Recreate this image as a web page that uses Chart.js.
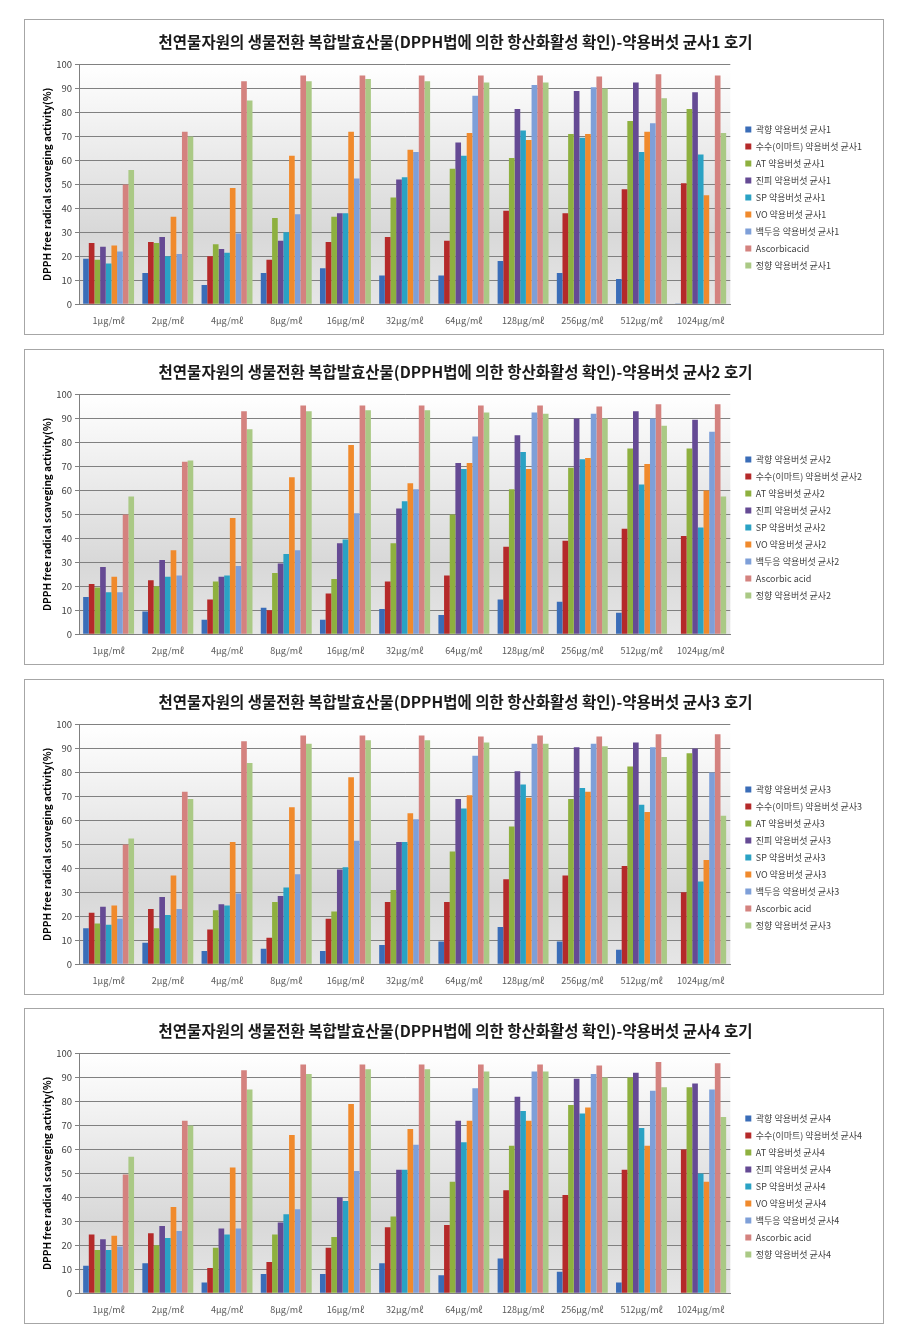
<!DOCTYPE html>
<html>
<head>
<meta charset="utf-8">
<script src="https://cdn.jsdelivr.net/npm/chart.js@4.4.0/dist/chart.umd.min.js"></script>
<style>
  body { margin: 0; background: #fff; width: 902px; height: 1334px; position: relative; }
  .panel { position: absolute; left: 24px; width: 858px; height: 314px; border: 1px solid #a6a6a6; background: #fff; }
  canvas { display: block; }
</style>
</head>
<body>
<div class="panel" style="top:19px"><canvas id="c1" width="858" height="314"></canvas></div>
<div class="panel" style="top:349px"><canvas id="c2" width="858" height="314"></canvas></div>
<div class="panel" style="top:679px"><canvas id="c3" width="858" height="314"></canvas></div>
<div class="panel" style="top:1008px"><canvas id="c4" width="858" height="314"></canvas></div>

<script>
// x categories
const doses = ['1μg/mℓ', '2μg/mℓ', '4μg/mℓ', '8μg/mℓ', '16μg/mℓ', '32μg/mℓ',
               '64μg/mℓ', '128μg/mℓ', '256μg/mℓ', '512μg/mℓ', '1024μg/mℓ'];

// series names, strain number appended per panel (not for ascorbic acid)
const seriesNames = ['곽향 약용버섯 균사', '수수(이마트) 약용버섯 균사', 'AT 약용버섯 균사',
                     '진피 약용버섯 균사', 'SP 약용버섯 균사', 'VO 약용버섯 균사',
                     '백두응 약용버섯 균사', 'Ascorbic acid', '정향 약용버섯 균사'];

const yTicks = [0, 10, 20, 30, 40, 50, 60, 70, 80, 90, 100];

// DPPH scavenging (%), one row per series
const strain1 = [
  [19, 13, 8, 13, 15, 12, 12, 18, 13, 10.5, 0.3],           // 곽향
  [25.5, 26, 20, 18.5, 26, 28, 26.5, 39, 38, 48, 50.5],     // 수수
  [18.5, 25.5, 25, 36, 36.5, 44.5, 56.5, 61, 71, 76.5, 81.5], // AT
  [24, 28, 23, 26.5, 38, 52, 67.5, 81.5, 89, 92.5, 88.5],   // 진피
  [17, 20, 21.5, 30, 38, 53, 62, 72.5, 69.5, 63.5, 62.5],   // SP
  [24.5, 36.5, 48.5, 62, 72, 64.5, 71.5, 68.5, 71, 72, 45.5], // VO
  [22, 21, 29.5, 37.5, 52.5, 63.5, 87, 91.5, 90.5, 75.5, 0], // 백두응
  [50, 72, 93, 95.5, 95.5, 95.5, 95.5, 95.5, 95, 96, 95.5], // Ascorbic acid
  [56, 70, 85, 93, 94, 93, 92.5, 92.5, 90, 86, 71.5]        // 정향
];

const strain2 = [
  [15.5, 9.5, 6, 11, 6, 10.5, 8, 14.5, 13.5, 9, 0.2],
  [21, 22.5, 14.5, 10, 17, 22, 24.5, 36.5, 39, 44, 41],
  [19.5, 20, 22, 25.5, 23, 38, 50, 60.5, 69.5, 77.5, 77.5],
  [28, 31, 24, 29.5, 38, 52.5, 71.5, 83, 90, 93, 89.5],
  [17.5, 24, 24.5, 33.5, 39.5, 55.5, 69, 76, 73, 62.5, 44.5],
  [24, 35, 48.5, 65.5, 79, 63, 71.5, 69, 73.5, 71, 60],
  [17.5, 24.5, 28.5, 35, 50.5, 60.5, 82.5, 92.5, 92, 90, 84.5],
  [50, 72, 93, 95.5, 95.5, 95.5, 95.5, 95.5, 95, 96, 96],
  [57.5, 72.5, 85.5, 93, 93.5, 93.5, 92.5, 92, 90, 87, 57.5]
];

const strain3 = [
  [15, 9, 5.5, 6.5, 5.5, 8, 9.5, 15.5, 9.5, 6, 0],
  [21.5, 23, 14.5, 11, 19, 26, 26, 35.5, 37, 41, 30],
  [17, 15, 22.5, 26, 22, 31, 47, 57.5, 69, 82.5, 88],
  [24, 28, 25, 28.5, 39.5, 51, 69, 80.5, 90.5, 92.5, 90],
  [16.5, 20.5, 24.5, 32, 40.5, 51, 65, 75, 73.5, 66.5, 34.5],
  [24.5, 37, 51, 65.5, 78, 63, 70.5, 69.5, 72, 63.5, 43.5],
  [19, 23, 29.5, 37.5, 51.5, 60.5, 87, 92, 92, 90.5, 80],
  [50, 72, 93, 95.5, 95.5, 95.5, 95, 95.5, 95, 96, 96],
  [52.5, 69, 84, 92, 93.5, 93.5, 92.5, 92, 91, 86.5, 62]
];

const strain4 = [
  [11.5, 12.5, 4.5, 8, 8, 12.5, 7.5, 14.5, 9, 4.5, 0.2],
  [24.5, 25, 10.5, 13, 19, 27.5, 28.5, 43, 41, 51.5, 60],
  [18, 20, 19, 24.5, 23.5, 32, 46.5, 61.5, 78.5, 90, 86],
  [22.5, 28, 27, 29.5, 40, 51.5, 72, 82, 89.5, 92, 87.5],
  [18, 23, 24.5, 33, 38.5, 51.5, 63, 76, 75, 69, 50],
  [24, 36, 52.5, 66, 79, 68.5, 72, 72, 77.5, 61.5, 46.5],
  [19.5, 26, 27, 35, 51, 62, 85.5, 92.5, 91.5, 84.5, 85],
  [49.5, 72, 93, 95.5, 95.5, 95.5, 95.5, 95.5, 95, 96.5, 96],
  [57, 70, 85, 91.5, 93.5, 93.5, 92.5, 92.5, 90, 86, 73.5]
];

const seriesColors = ['#3a6db8', '#b52a2a', '#8eb03f', '#654a94', '#2aa2c4',
                      '#f08a2c', '#7e9fd8', '#d4827f', '#aac985'];

const FONT = '"Noto Sans CJK KR", "Noto Sans", sans-serif';

// white-to-grey wash behind the bars, like the Excel plot area
const plotBackground = {
  id: 'plotBackground',
  beforeDraw(chart) {
    const { ctx, chartArea: a } = chart;
    const g = ctx.createLinearGradient(0, a.top, 0, a.bottom);
    g.addColorStop(0, '#ffffff');
    g.addColorStop(0.7, '#d8d8d8');
    g.addColorStop(1, '#e6e6e6');
    ctx.save();
    ctx.fillStyle = g;
    ctx.fillRect(a.left, a.top, a.width, a.height);
    ctx.restore();
  }
};

function makeChart(id, n, rows) {
  const datasets = rows.map((vals, i) => ({
    label: i === 7 ? (n === 1 ? 'Ascorbicacid' : 'Ascorbic acid') : seriesNames[i] + n,
    data: vals,
    backgroundColor: seriesColors[i],
    borderWidth: 0,
    categoryPercentage: 0.86,
    barPercentage: 1.0,
  }));

  return new Chart(document.getElementById(id), {
    type: 'bar',
    data: { labels: doses, datasets },
    plugins: [plotBackground],
    options: {
      responsive: false,
      animation: false,
      layout: { padding: { left: 14, right: 11, top: 0, bottom: -3 } },
      plugins: {
        title: {
          display: true,
          text: `천연물자원의 생물전환 복합발효산물(DPPH법에 의한 항산화활성 확인)-약용버섯 균사${n} 호기`,
          color: '#1a1a1a',
          font: { family: FONT, size: 15.5, weight: 'bold' },
          padding: { top: 13, bottom: 13 },
        },
        legend: {
          position: 'right',
          align: 'center',
          maxWidth: 135,
          // blank title only to push the item block down
          title: { display: true, text: ' ', font: { size: 1 }, padding: { top: 19, bottom: 18 } },
          labels: {
            boxWidth: 6, boxHeight: 6, padding: 8,
            color: '#404040',
            font: { family: FONT, size: 9 },
          },
        },
        tooltip: { enabled: false },
      },
      scales: {
        x: {
          grid: { display: false, drawTicks: false },
          border: { color: '#7f7f7f' },
          ticks: { color: '#595959', font: { family: FONT, size: 9 }, padding: 11, maxRotation: 0 },
        },
        y: {
          min: 0, max: 100,
          afterBuildTicks: s => { s.ticks = yTicks.map(v => ({ value: v })); },
          afterFit: s => { s.width = 40; },
          grid: { color: '#808080', tickLength: 4 },
          border: { color: '#7f7f7f' },
          ticks: { color: '#404040', font: { family: FONT, size: 9.5 }, padding: 3 },
          title: {
            display: true,
            text: 'DPPH free radical scaveging activity(%)',
            color: '#000',
            font: { family: FONT, size: 10, weight: 'bold' },
            padding: { top: 2, bottom: 0 },
          },
        },
        // empty spacer between plot and legend
        gap: {
          position: 'right',
          display: true,
          grid: { display: false },
          border: { display: false },
          ticks: { display: false },
          afterFit: s => { s.width = 7; },
        },
      },
    },
  });
}

makeChart('c1', 1, strain1);
makeChart('c2', 2, strain2);
makeChart('c3', 3, strain3);
makeChart('c4', 4, strain4);
</script>
</body>
</html>
